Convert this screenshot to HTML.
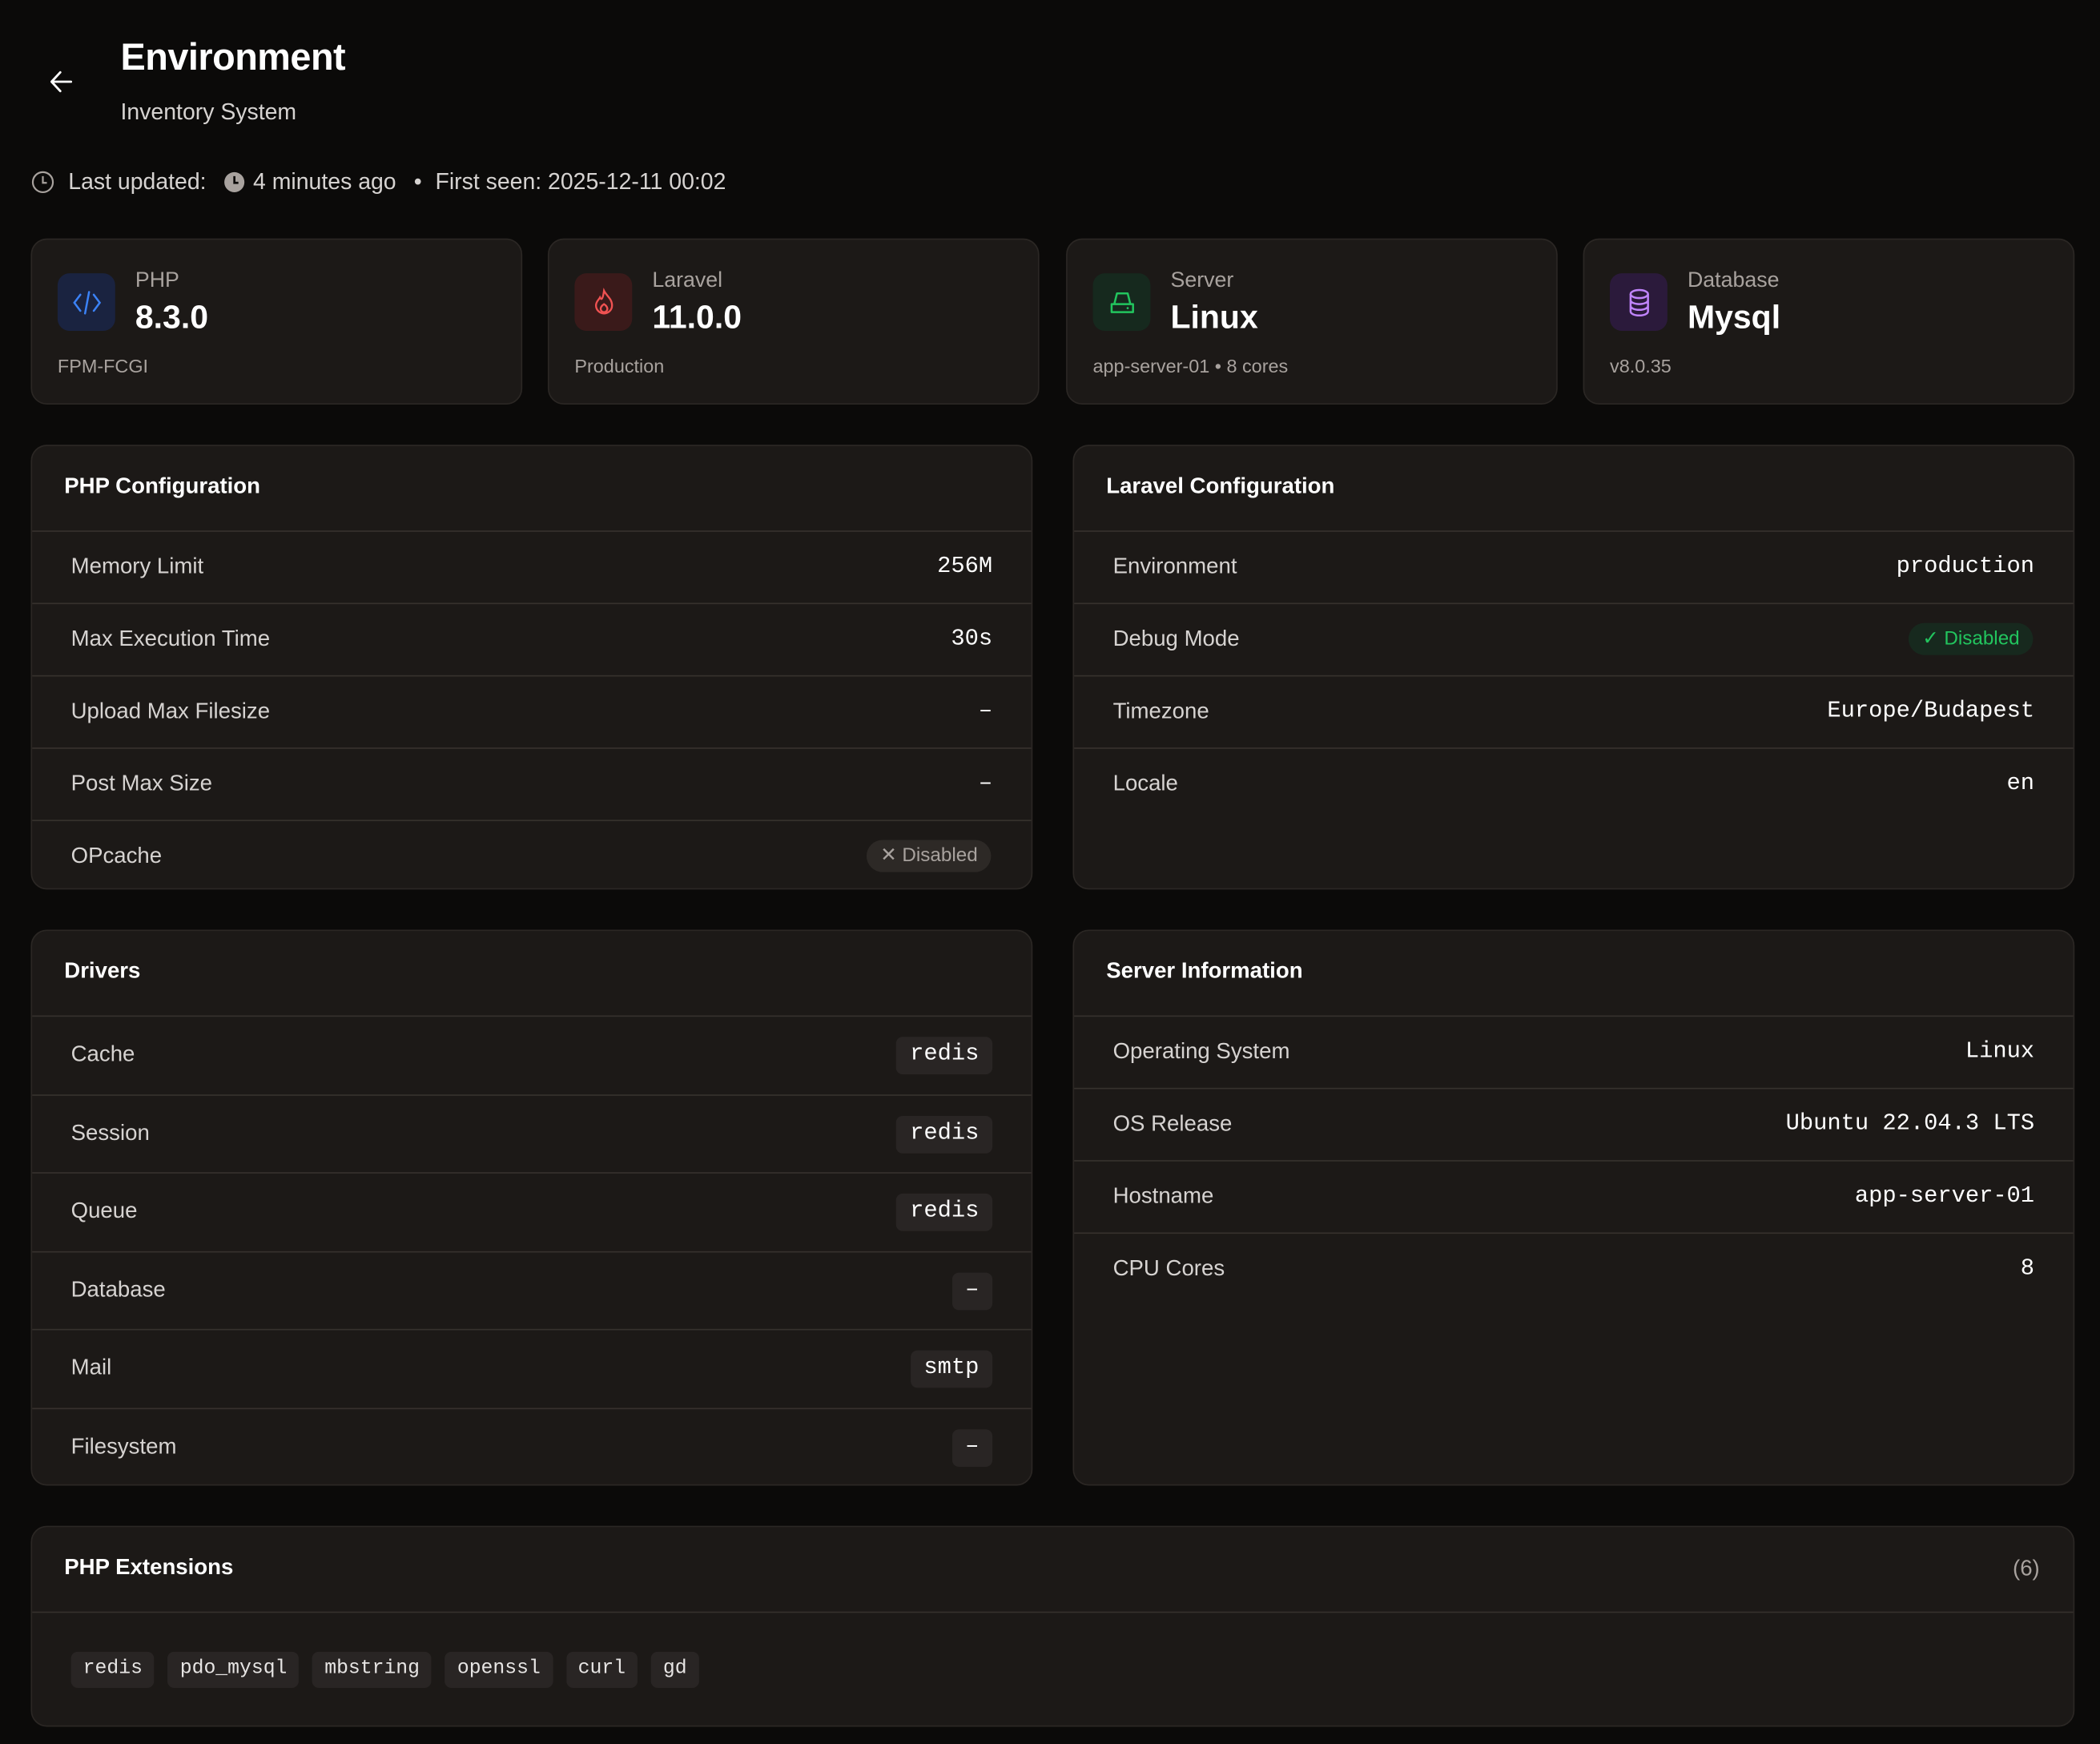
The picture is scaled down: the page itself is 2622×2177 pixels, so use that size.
<!DOCTYPE html>
<html><head><meta charset="utf-8"><style>
html,body{margin:0;padding:0;background:#0b0a09;width:2622px;height:2176px;overflow:hidden}
#w{position:absolute;left:0;top:0;width:1568px;height:1302px;transform:scale(1.6722);transform-origin:0 0;font-family:"Liberation Sans",sans-serif;color:#fff}
.a{position:absolute}
.card{position:absolute;background:#1c1917;border:1px solid #2b2724;border-radius:12px;box-sizing:border-box}
.ic{position:absolute;left:19px;top:25px;width:43px;height:43px;border-radius:9px}
.lbl{position:absolute;left:77px;top:22px;font-size:16px;color:#a8a29e}
.val{position:absolute;left:77px;top:45px;font-size:24.5px;font-weight:bold;color:#fff}
.sub{position:absolute;left:19px;top:86px;font-size:14px;color:#a8a29e}
.hd{position:absolute;left:24px;font-size:16.5px;font-weight:bold;color:#fff}
.row{position:absolute;left:0;right:0;border-top:1px solid #36312d;box-sizing:border-box}
.row .k{position:absolute;left:29px;font-size:16.5px;color:#d6d3d1}
.row .v{position:absolute;right:29px;font-family:"Liberation Mono",monospace;font-size:17.2px;color:#fff}
.code{position:absolute;right:29px;background:#292524;border-radius:5px;padding:0 10px;height:28px;line-height:28px;font-family:"Liberation Mono",monospace;font-size:17.2px;color:#fff}
.ext{display:inline-block;background:#292524;border-radius:5px;padding:0 9px;height:27px;line-height:27px;font-family:"Liberation Mono",monospace;font-size:14.8px;color:#e7e5e4;margin-right:10px}
</style></head><body><div id="w">
<svg class="a" style="left:36px;top:51px" width="20" height="20" viewBox="0 0 20 20"><path d="M17 10H3M9 3L2.5 10L9 17" fill="none" stroke="#fff" stroke-width="1.7" stroke-linecap="round" stroke-linejoin="round"/></svg>
<div class="a" style="left:90px;top:27px;font-size:28px;font-weight:bold;letter-spacing:-0.3px">Environment</div>
<div class="a" style="left:90px;top:74px;font-size:17px;color:#d6d3d1">Inventory System</div>
<svg class="a" style="left:23px;top:127px" width="18" height="18" viewBox="0 0 18 18"><circle cx="9" cy="9" r="7.5" fill="none" stroke="#a8a29e" stroke-width="1.3"/><path d="M9 4.5V9.5H12" fill="none" stroke="#a8a29e" stroke-width="1.3"/></svg>
<div class="a" style="left:51px;top:126px;font-size:17px;color:#d6d3d1">Last updated:</div>
<svg class="a" style="left:167px;top:128px" width="16" height="16" viewBox="0 0 16 16"><circle cx="8" cy="8" r="7.5" fill="#a8a29e"/><path d="M8 3.5V8.5H11" fill="none" stroke="#0b0a09" stroke-width="1.6"/></svg>
<div class="a" style="left:189px;top:126px;font-size:17px;color:#d6d3d1">4 minutes ago</div>
<div class="a" style="left:309px;top:126px;font-size:17px;color:#d6d3d1">•</div>
<div class="a" style="left:325px;top:126px;font-size:17px;color:#d6d3d1">First seen: 2025-12-11 00:02</div>

<div class="card" style="left:23px;top:178px;width:367px;height:124px">
<div class="ic" style="background:#1a2340"></div>
<svg class="a" style="left:30px;top:37px" width="22" height="20" viewBox="0 0 22 20"><path d="M6 4L1.5 10L6 16M16 4L20.5 10L16 16M12.5 2L9.5 18" fill="none" stroke="#3b82f6" stroke-width="1.5" stroke-linecap="round"/></svg>
<div class="lbl">PHP</div><div class="val">8.3.0</div><div class="sub">FPM-FCGI</div></div>
<div class="card" style="left:409px;top:178px;width:367px;height:124px">
<div class="ic" style="background:#3a1a1a"></div>
<svg class="a" style="left:31px;top:36px" width="20" height="22" viewBox="0 0 20 22"><path d="M10 2C12 6 16 8 16 13A6 6 0 0 1 4 13C4 10 6 9 7 7C8 9 9 9 10 2ZM10 18A2.5 2.5 0 0 1 7.5 15.5C7.5 13.5 10 12 10 12C10 12 12.5 13.5 12.5 15.5A2.5 2.5 0 0 1 10 18Z" fill="none" stroke="#f05252" stroke-width="1.4"/></svg>
<div class="lbl">Laravel</div><div class="val">11.0.0</div><div class="sub">Production</div></div>
<div class="card" style="left:796px;top:178px;width:367px;height:124px">
<div class="ic" style="background:#16291e"></div>
<svg class="a" style="left:31px;top:38px" width="20" height="18" viewBox="0 0 20 18"><path d="M4 10L6 2H14L16 10M2 10H18V16H2Z" fill="none" stroke="#22c55e" stroke-width="1.5" stroke-linejoin="round"/><circle cx="14" cy="13" r=".8" fill="#22c55e"/></svg>
<div class="lbl">Server</div><div class="val">Linux</div><div class="sub">app-server-01 • 8 cores</div></div>
<div class="card" style="left:1182px;top:178px;width:367px;height:124px">
<div class="ic" style="background:#2b1a3b"></div>
<svg class="a" style="left:32px;top:36px" width="18" height="22" viewBox="0 0 18 22"><ellipse cx="9" cy="4.5" rx="6.5" ry="3" fill="none" stroke="#c084fc" stroke-width="1.5"/><path d="M2.5 4.5V17.5C2.5 19.2 5.4 20.5 9 20.5S15.5 19.2 15.5 17.5V4.5M2.5 9C2.5 10.7 5.4 12 9 12S15.5 10.7 15.5 9M2.5 13.3C2.5 15 5.4 16.3 9 16.3S15.5 15 15.5 13.3" fill="none" stroke="#c084fc" stroke-width="1.5"/></svg>
<div class="lbl">Database</div><div class="val">Mysql</div><div class="sub">v8.0.35</div></div>

<div class="card" style="left:23px;top:332px;width:748px;height:332px;overflow:hidden">
<div class="hd" style="top:21px">PHP Configuration</div>
<div class="row" style="top:63px;height:54px"><span class="k" style="top:17px">Memory Limit</span><span class="v" style="top:17px">256M</span></div>
<div class="row" style="top:117px;height:54px"><span class="k" style="top:17px">Max Execution Time</span><span class="v" style="top:17px">30s</span></div>
<div class="row" style="top:171px;height:54px"><span class="k" style="top:17px">Upload Max Filesize</span><span class="v" style="top:17px">–</span></div>
<div class="row" style="top:225px;height:54px"><span class="k" style="top:17px">Post Max Size</span><span class="v" style="top:17px">–</span></div>
<div class="row" style="top:279px;height:54px"><span class="k" style="top:17px">OPcache</span><span class="a" style="right:30px;top:14px;background:#2d2926;border-radius:12px;height:24px;line-height:24px;padding:0 10px;font-size:14.5px;color:#a8a29e">✕ Disabled</span></div>
</div>
<div class="card" style="left:801px;top:332px;width:748px;height:332px;overflow:hidden">
<div class="hd" style="top:21px">Laravel Configuration</div>
<div class="row" style="top:63px;height:54px"><span class="k" style="top:17px">Environment</span><span class="v" style="top:17px">production</span></div>
<div class="row" style="top:117px;height:54px"><span class="k" style="top:17px">Debug Mode</span><span class="a" style="right:30px;top:14px;background:#17291e;border-radius:12px;height:24px;line-height:24px;padding:0 10px;font-size:14.5px;color:#22c55e">✓ Disabled</span></div>
<div class="row" style="top:171px;height:54px"><span class="k" style="top:17px">Timezone</span><span class="v" style="top:17px">Europe/Budapest</span></div>
<div class="row" style="top:225px;height:54px;border-bottom:0"><span class="k" style="top:17px">Locale</span><span class="v" style="top:17px">en</span></div>
</div>
<div class="card" style="left:23px;top:694px;width:748px;height:415px;overflow:hidden">
<div class="hd" style="top:21px">Drivers</div>
<div class="row" style="top:63px;height:59px"><span class="k" style="top:19px">Cache</span><span class="code" style="top:15px">redis</span></div>
<div class="row" style="top:122px;height:58px"><span class="k" style="top:19px">Session</span><span class="code" style="top:15px">redis</span></div>
<div class="row" style="top:180px;height:59px"><span class="k" style="top:19px">Queue</span><span class="code" style="top:15px">redis</span></div>
<div class="row" style="top:239px;height:58px"><span class="k" style="top:19px">Database</span><span class="code" style="top:15px">–</span></div>
<div class="row" style="top:297px;height:59px"><span class="k" style="top:19px">Mail</span><span class="code" style="top:15px">smtp</span></div>
<div class="row" style="top:356px;height:59px"><span class="k" style="top:19px">Filesystem</span><span class="code" style="top:15px">–</span></div>
</div>
<div class="card" style="left:801px;top:694px;width:748px;height:415px;overflow:hidden">
<div class="hd" style="top:21px">Server Information</div>
<div class="row" style="top:63px;height:54px"><span class="k" style="top:17px">Operating System</span><span class="v" style="top:17px">Linux</span></div>
<div class="row" style="top:117px;height:54px"><span class="k" style="top:17px">OS Release</span><span class="v" style="top:17px">Ubuntu 22.04.3 LTS</span></div>
<div class="row" style="top:171px;height:54px"><span class="k" style="top:17px">Hostname</span><span class="v" style="top:17px">app-server-01</span></div>
<div class="row" style="top:225px;height:54px"><span class="k" style="top:17px">CPU Cores</span><span class="v" style="top:17px">8</span></div>
</div>
<div class="card" style="left:23px;top:1139px;width:1526px;height:150px;overflow:hidden">
<div class="hd" style="top:21px">PHP Extensions</div>
<div class="a" style="right:25px;top:22px;font-size:16.5px;color:#a8a29e">(6)</div>
<div class="row" style="top:63px;height:87px"><div class="a" style="left:29px;top:29px;white-space:nowrap"><span class="ext">redis</span><span class="ext">pdo_mysql</span><span class="ext">mbstring</span><span class="ext">openssl</span><span class="ext">curl</span><span class="ext">gd</span></div></div>
</div>
</div></body></html>
